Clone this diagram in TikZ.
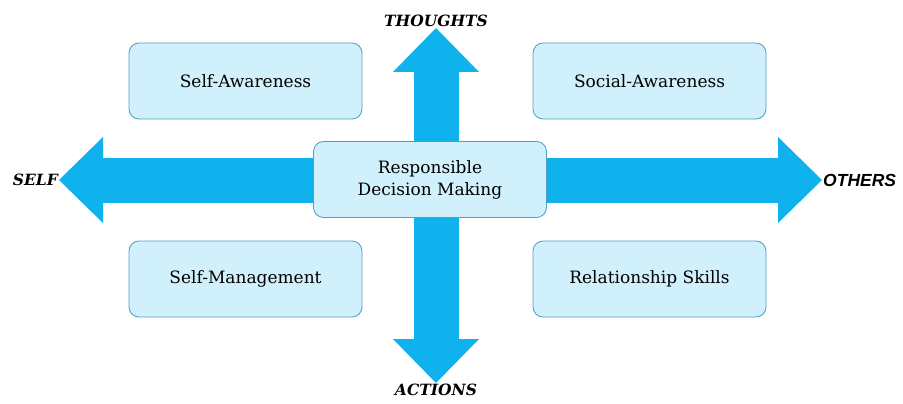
\documentclass[tikz,border=0pt]{standalone}
\usepackage{fontspec}
\setmainfont{DejaVu Serif}
\newfontfamily\othersfont{Liberation Sans}
\usepackage{tikz}
\usetikzlibrary{
  positioning,
  arrows.meta
}
\definecolor{arrowblue}{RGB}{16,178,238}
\definecolor{boxfill}{RGB}{208,240,251}
\definecolor{boxline}{RGB}{78,158,198}

\begin{document}
\begin{tikzpicture}[x=1pt,y=-1pt,
  skillbox/.style={draw=boxline,fill=boxfill,line width=0.8pt,rounded corners=10pt,
    minimum width=233pt,minimum height=76pt,align=center,
    font=\fontsize{17}{22}\selectfont},
  axislabel/.style={inner sep=1pt,font=\fontsize{15.5}{18}\selectfont\bfseries\itshape},
  bigarrow/.style={draw=arrowblue,line width=45pt,
    -{Triangle[length=44pt,width=86pt,line width=0pt]}}]
  \useasboundingbox (0,0) rectangle (903,404);
  \coordinate (mid) at (436,180);
  % axis labels
  \node[axislabel,anchor=east] (self) at (59,180) {SELF};
  \node[axislabel,anchor=west,font=\fontsize{17.5}{20}\selectfont\othersfont\bfseries\itshape] (others) at (822,180) {OTHERS};
  \node[axislabel,anchor=south] (thoughts) at (436,28) {THOUGHTS};
  \node[axislabel,anchor=north] (actions) at (436,383) {ACTIONS};
  % arrows
  \draw[bigarrow] (mid) -- (self.east);
  \draw[bigarrow] (mid) -- (others.west);
  \draw[bigarrow] (mid) -- (thoughts.south);
  \draw[bigarrow] (mid) -- (actions.north);
  % boxes
  \node[skillbox] (rdm) at (430,179.5) {Responsible\\Decision Making};
  \node[skillbox] (selfaw) at (245.5,81) {Self-Awareness};
  \node[skillbox] (socaw) at (649.5,81) {Social-Awareness};
  \node[skillbox] (selfman) at (245.5,279) {Self-Management};
  \node[skillbox] (relsk) at (649.5,279) {Relationship Skills};
\end{tikzpicture}
\end{document}
